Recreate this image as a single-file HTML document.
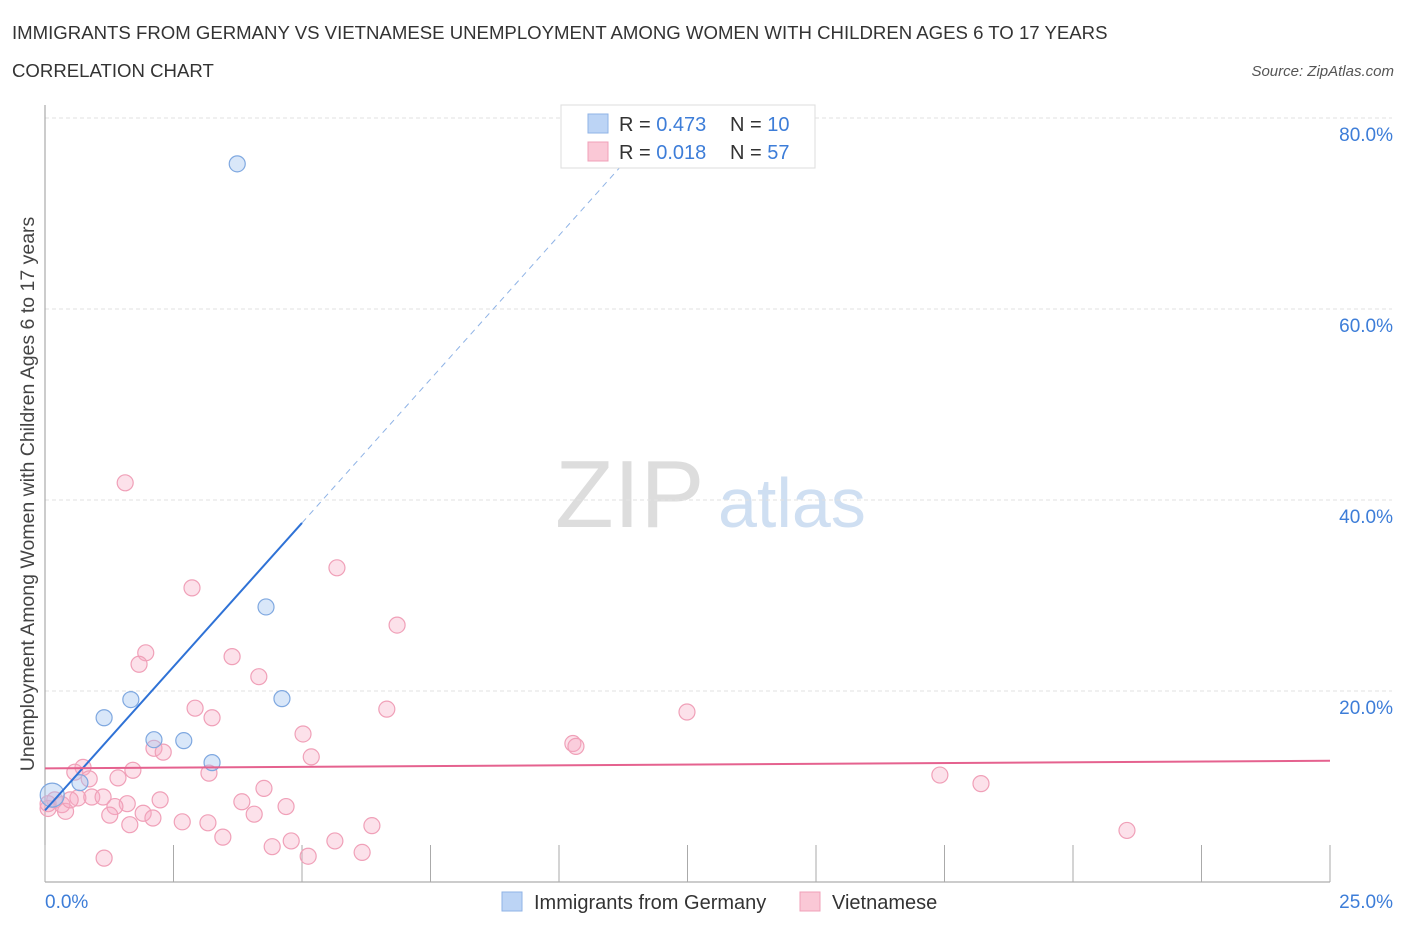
<!DOCTYPE html>
<html><head><meta charset="utf-8"><style>
body{margin:0;background:#fff;font-family:"Liberation Sans",sans-serif;}
svg text{font-family:"Liberation Sans",sans-serif;}
</style></head><body>
<svg id="chart" width="1406" height="930" xmlns="http://www.w3.org/2000/svg">
<text x="12" y="39" font-size="18.6" fill="#333">IMMIGRANTS FROM GERMANY VS VIETNAMESE UNEMPLOYMENT AMONG WOMEN WITH CHILDREN AGES 6 TO 17 YEARS</text>
<text x="12" y="77" font-size="18.6" fill="#333">CORRELATION CHART</text>
<text x="1394" y="76" font-size="15" fill="#555" text-anchor="end" font-style="italic">Source: ZipAtlas.com</text>
<text x="555" y="527" font-size="96" fill="#ddd" font-family="Liberation Serif">ZIP</text>
<text x="718" y="527" font-size="70" fill="#cfdff2">atlas</text>
<g id="grid"></g>
<g id="axes"></g>
<g id="marks"></g>
<text transform="translate(34,494) rotate(-90)" font-size="19.5" fill="#444" text-anchor="middle">Unemployment Among Women with Children Ages 6 to 17 years</text>
<g>
<rect x="561" y="105" width="254" height="63" fill="#fff" stroke="#ddd"/>
<rect x="588" y="114" width="20" height="19" fill="#bcd4f5" stroke="#8fb3e6"/>
<text x="619" y="131" font-size="20" fill="#333">R = <tspan fill="#3d7dd8">0.473</tspan></text>
<text x="730" y="131" font-size="20" fill="#333">N = <tspan fill="#3d7dd8">10</tspan></text>
<rect x="588" y="142" width="20" height="19" fill="#fac8d6" stroke="#f0a0b8"/>
<text x="619" y="159" font-size="20" fill="#333">R =  <tspan fill="#3d7dd8">0.018</tspan></text>
<text x="730" y="159" font-size="20" fill="#333">N = <tspan fill="#3d7dd8">57</tspan></text>
</g>
<g>
<rect x="502" y="892" width="20" height="19" fill="#bcd4f5" stroke="#8fb3e6"/>
<text x="534" y="909" font-size="20" fill="#333">Immigrants from Germany</text>
<rect x="800" y="892" width="20" height="19" fill="#fac8d6" stroke="#f0a0b8"/>
<text x="832" y="909" font-size="20" fill="#333">Vietnamese</text>
</g>
</svg>
<script>
const yTicks=[20,40,60,80];
const yTickLabels=["20.0%","40.0%","60.0%","80.0%"];
const xEndLabels=["0.0%","25.0%"];
const germanyX=[3.74,4.3,1.67,4.61,1.15,2.12,2.7,3.25,0.68,0.14];
const germanyY=[75.2,28.8,19.1,19.2,17.2,14.9,14.8,12.5,10.4,9.1];
const vietX=[1.56,2.86,5.68,6.85,1.96,1.83,3.64,4.16,2.92,3.25,6.65,12.49,5.02,2.12,2.3,5.18,10.27,10.33,0.74,0.58,1.71,3.19,0.86,1.42,4.26,17.41,18.21,0.19,0.33,0.06,0.4,0.64,0.91,1.13,1.6,1.36,2.24,3.83,4.69,1.26,1.91,2.1,4.07,1.65,2.67,3.17,6.36,3.46,4.79,5.64,4.42,6.17,5.12,1.15,21.05,0.06,0.49];
const vietY=[41.8,30.8,32.9,26.9,24.0,22.8,23.6,21.5,18.2,17.2,18.1,17.8,15.5,14.0,13.6,13.1,14.5,14.2,12.0,11.5,11.7,11.4,10.8,10.9,9.8,11.2,10.3,8.6,8.1,7.7,7.4,8.8,8.9,8.9,8.2,7.9,8.6,8.4,7.9,7.0,7.2,6.7,7.1,6.0,6.3,6.2,5.9,4.7,4.3,4.3,3.7,3.1,2.7,2.5,5.4,8.2,8.6];
const germanyFit=[7.5,6.02];
const vietFit=[11.9,0.032];
const NS="http://www.w3.org/2000/svg";
const X=v=>45+v*51.4, Y=v=>882-v*9.55;
function mk(t,a,p){const e=document.createElementNS(NS,t);for(const k in a)e.setAttribute(k,a[k]);p.appendChild(e);return e;}
const grid=document.getElementById('grid'),axes=document.getElementById('axes'),marks=document.getElementById('marks');
yTicks.forEach((t,i)=>{
 const l=mk('line',{x1:45,x2:1392,y1:Y(t),y2:Y(t),stroke:'#e2e2e2','stroke-dasharray':'4,3'},grid);
 
 
 const tx=mk('text',{x:1393,y:Y(t)+23,'font-size':19,fill:'#3d7dd8','text-anchor':'end'},axes);tx.textContent=yTickLabels[i];
 
 
});
const topLine=mk('line',{x1:45,x2:1392,y1:118,y2:118,stroke:'#e2e2e2','stroke-dasharray':'4,3'},grid);


mk('line',{x1:45,x2:45,y1:105,y2:882,stroke:'#999'},axes);
mk('line',{x1:45,x2:1330,y1:882,y2:882,stroke:'#999'},axes);
for(let i=0;i<=10;i++){const t=mk('line',{x1:X(i*2.5),x2:X(i*2.5),y1:845,y2:882,stroke:'#aaa'},axes);
 
 }
const xl0=mk('text',{x:45,y:908,'font-size':19,fill:'#3d7dd8'},axes);xl0.textContent=xEndLabels[0];


const xl1=mk('text',{x:1393,y:908,'font-size':19,fill:'#3d7dd8','text-anchor':'end'},axes);xl1.textContent=xEndLabels[1];


vietX.forEach((x,i)=>{const c=mk('circle',{cx:X(x),cy:Y(vietY[i]),r:8,fill:'rgba(246,170,195,0.35)',stroke:'#f0a0b8','stroke-width':1.2},marks);
 
 });
germanyX.forEach((x,i)=>{const c=mk('circle',{cx:X(x),cy:Y(germanyY[i]),r:i==9?12:8,fill:'rgba(160,195,240,0.4)',stroke:'#7fa8e0','stroke-width':1.2},marks);
 
 });
const g1=mk('line',{x1:X(0),y1:Y(germanyFit[0]),x2:X(5),y2:Y(germanyFit[0]+5*germanyFit[1]),stroke:'#2f72d6','stroke-width':2},marks);


const g2=mk('line',{x1:X(5),y1:Y(germanyFit[0]+5*germanyFit[1]),x2:X(11.8),y2:Y(germanyFit[0]+11.8*germanyFit[1]),stroke:'#8fb3e6','stroke-width':1,'stroke-dasharray':'6,5'},marks);


const v1=mk('line',{x1:X(0),y1:Y(vietFit[0]),x2:X(25),y2:Y(vietFit[0]+25*vietFit[1]),stroke:'#e5628f','stroke-width':2},marks);


</script>
</body></html>
